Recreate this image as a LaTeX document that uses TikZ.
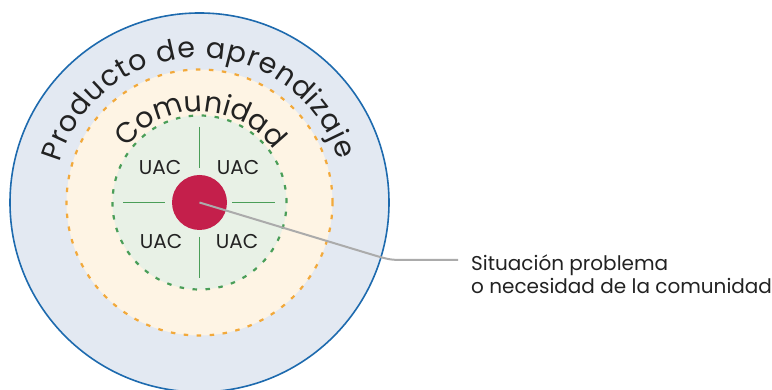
\documentclass[tikz,border=0pt]{standalone}
\usepackage{fontspec}
\setmainfont{Poppins}
\usetikzlibrary{decorations.text,calc}
\definecolor{outerfill}{HTML}{E3E9F2}
\definecolor{outerline}{HTML}{1D6AAE}
\definecolor{midfill}{HTML}{FEF4E4}
\definecolor{midline}{HTML}{F2A93B}
\definecolor{innfill}{HTML}{E8F1E6}
\definecolor{innline}{HTML}{4A9E58}
\definecolor{corefill}{HTML}{C41F4B}
\definecolor{leadercol}{HTML}{ABABAB}
\definecolor{ink}{HTML}{222222}
\begin{document}
\begin{tikzpicture}[x=1pt,y=1pt,
  ring/.style={circle, inner sep=0pt, outer sep=0pt, minimum size=#1},
  dashring/.style={dash pattern=on 4.5pt off 8.5pt, line width=2.2pt},
  crossline/.style={draw=innline, line width=1pt},
  uac/.style={font=\fontsize{20}{20}\selectfont, text=ink, inner sep=0pt},
  arctext/.style={decorate, decoration={text along path, text={|\fontsize{28.5}{28.5}\selectfont|#1}, text align=fit to path, text color=ink}},
  leaderline/.style={draw=leadercol, line width=2pt}]
\useasboundingbox (0,0) rectangle (772,390);
\coordinate (c) at (199.5,187.5);
\node[ring=379pt, fill=outerfill, draw=outerline, line width=1.6pt] (outer) at (c) {};
\node[ring=266pt, fill=midfill, draw=midline, dashring] (mid) at (c) {};
\node[ring=174pt, fill=innfill, draw=innline, dashring] (inner) at (c) {};
% cross
\draw[crossline] ($(c)+(0,75.5)$) -- ($(c)+(0,34.5)$);
\draw[crossline] ($(c)+(0,-34.5)$) -- ($(c)+(0,-75.5)$);
\draw[crossline] ($(c)+(-76.5,0)$) -- ($(c)+(-34.5,0)$);
\draw[crossline] ($(c)+(32.5,0)$) -- ($(c)+(75.5,0)$);
\node[ring=55pt, fill=corefill] (core) at (c) {};
% UAC labels
\node[uac] (u1) at (160,222) {UAC};
\node[uac] (u2) at (238,222) {UAC};
\node[uac] (u3) at (161,148) {UAC};
\node[uac] (u4) at (237,148) {UAC};
% curved titles
\path[arctext={Producto de aprendizaje}] (c) ++(164:145) arc[start angle=164, end angle=17, radius=145];
\path[arctext={Comunidad}] (c) ++(143:91) arc[start angle=143, end angle=40, radius=91];
% label and leader
\node[anchor=base west, align=left, inner sep=0pt, text=ink, font=\fontsize{20}{22.7}\selectfont] (lbl) at (471,96.7) {Situación problema\\o necesidad de la comunidad};
\coordinate (b1) at (370,136);
\coordinate (b2) at (390,130);
\coordinate (b3) at (407,130);
\coordinate (lend) at (458,130);
\draw[leaderline] (core.center) -- (b1) .. controls (b2) .. (b3) -- (lend);
\end{tikzpicture}
\end{document}
